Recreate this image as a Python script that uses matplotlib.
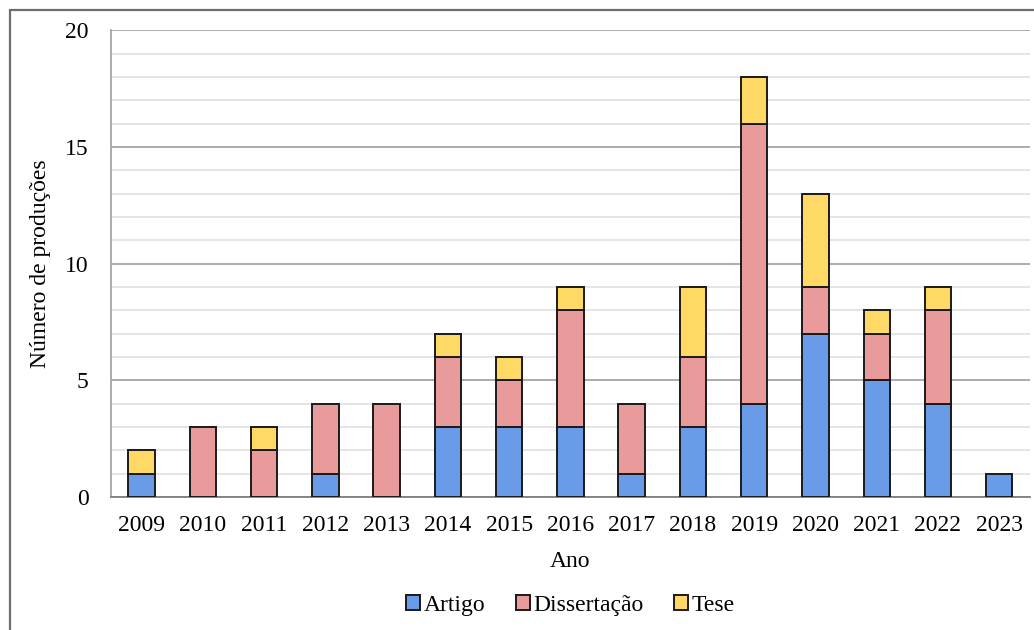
import numpy as np
import matplotlib
matplotlib.use('Agg')
import matplotlib.pyplot as plt
from matplotlib.patches import Rectangle

# Produções por ano, separadas por tipo
anos = ['2009', '2010', '2011', '2012', '2013', '2014', '2015', '2016',
        '2017', '2018', '2019', '2020', '2021', '2022', '2023']
artigo = [1, 0, 0, 1, 0, 3, 3, 3, 1, 3, 4, 7, 5, 4, 1]
dissertacao = [0, 3, 2, 3, 4, 3, 2, 5, 3, 3, 12, 2, 2, 4, 0]
tese = [1, 0, 1, 0, 0, 1, 1, 1, 0, 3, 2, 4, 1, 1, 0]

cores = {'Artigo': '#6A9BE8', 'Dissertação': '#E99A9B', 'Tese': '#FFD966'}

plt.rcParams['font.family'] = ['Liberation Serif', 'DejaVu Serif']
fs = 17

fig = plt.figure(figsize=(10.34, 6.3), dpi=100)
ax = fig.add_axes([0.1073, 0.2111, 0.8887, 0.7409])

x = np.arange(len(anos))
largura = 0.43
a = np.array(artigo)
d = np.array(dissertacao)
t = np.array(tese)

def barras(valores, base, rotulo):
    # séries com valor zero não desenham retângulo
    mask = valores > 0
    ax.bar(x[mask], valores[mask], largura, bottom=base[mask],
           color=cores[rotulo], edgecolor='#1a1a1a', linewidth=1.4,
           label=rotulo, zorder=3)

barras(a, np.zeros_like(a), 'Artigo')
barras(d, a, 'Dissertação')
barras(t, a + d, 'Tese')

ax.set_xlim(-0.5, len(anos) - 0.5)
ax.set_ylim(0, 20)
ax.set_xticks(x)
ax.set_xticklabels(anos)
ax.set_yticks([0, 5, 10, 15, 20])
ax.set_yticks(np.arange(0, 21, 1), minor=True)

# grade: linhas finas a cada unidade, mais escuras a cada 5
ax.grid(axis='y', which='minor', color='#E3E3E3', linewidth=1.3, zorder=0)
ax.grid(axis='y', which='major', color='#A6A6A6', linewidth=1.3, zorder=1)
ax.tick_params(axis='both', which='both', length=0, labelsize=fs)
ax.tick_params(axis='x', pad=13)
ax.tick_params(axis='y', pad=16)

for lado in ['top', 'right']:
    ax.spines[lado].set_visible(False)
ax.spines['left'].set_color('#A6A6A6')
ax.spines['left'].set_linewidth(1.3)
ax.spines['bottom'].set_color('#7F7F7F')
ax.spines['bottom'].set_linewidth(1.3)

ax.set_xlabel('Ano', fontsize=fs, labelpad=11)
ax.set_ylabel('Número de produções', fontsize=fs, labelpad=10)

leg = ax.legend(loc='upper center', bbox_to_anchor=(0.5, -0.165), ncol=3,
                frameon=False, fontsize=fs, handlelength=0.6,
                handleheight=0.6, handletextpad=0.15, columnspacing=1.3)

# moldura externa da figura
fig.patches.append(Rectangle((10 / 1034, -0.1), 1.2, (620 / 630) + 0.1,
                             transform=fig.transFigure, fill=False,
                             edgecolor='#6E6E6E', linewidth=1.6))

fig.savefig('out.png', dpi=100)
